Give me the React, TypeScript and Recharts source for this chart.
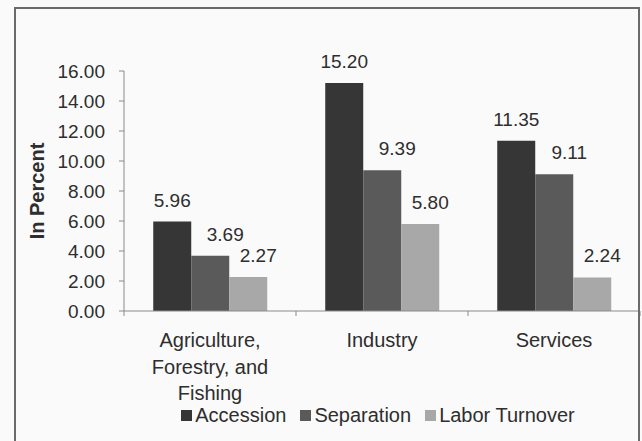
import { BarChart, Bar, XAxis, YAxis, Legend, LabelList, Text } from "recharts";

const sectors = ["Agriculture, Forestry, and Fishing", "Industry", "Services"];
const seriesNames = ["Accession", "Separation", "Labor Turnover"];
const accession = [5.96, 15.2, 11.35];
const separation = [3.69, 9.39, 9.11];
const laborTurnover = [2.27, 5.8, 2.24];
const yTicks = [0, 2, 4, 6, 8, 10, 12, 14, 16];

const data = sectors.map((name, i) => ({
  name,
  Accession: accession[i],
  Separation: separation[i],
  "Labor Turnover": laborTurnover[i],
}));

const FONT = "'Liberation Sans', Arial, sans-serif";
const INK = "#2e2e2e";
const AXIS = "#8a8a8a";
const TICK_SIZE = 5;
const TICK_GAP = 17;

// category label + the little tick marks that sit between the groups
const SectorTick = (props: any) => {
  const { x, y, payload, index } = props;
  const half = payload.offset || 0;
  const axisY = y - TICK_SIZE - TICK_GAP;
  const isLast = index === sectors.length - 1;
  return (
    <g>
      <line x1={x - half} x2={x - half} y1={axisY} y2={axisY + TICK_SIZE} stroke={AXIS} />
      {isLast && <line x1={x + half} x2={x + half} y1={axisY} y2={axisY + TICK_SIZE} stroke={AXIS} />}
      <Text
        x={x}
        y={y}
        width={112}
        textAnchor="middle"
        verticalAnchor="start"
        lineHeight={26.5}
        fontFamily={FONT}
        fontSize={20}
        fill={INK}
      >
        {payload.value}
      </Text>
    </g>
  );
};

const renderLegend = (props: any) => {
  const items = [...(props.payload || [])].sort(
    (a: any, b: any) => seriesNames.indexOf(a.value) - seriesNames.indexOf(b.value)
  );
  return (
    <div
      style={{
        display: "flex",
        justifyContent: "center",
        gap: 14,
        fontFamily: FONT,
        fontSize: 20,
        color: INK,
        lineHeight: "26px",
      }}
    >
      {items.map((p: any) => (
        <span key={p.value} style={{ display: "flex", alignItems: "center" }}>
          <span style={{ width: 11, height: 11, background: p.color, marginRight: 3, display: "inline-block" }} />
          {p.value}
        </span>
      ))}
    </div>
  );
};

const labelStyle = { fontFamily: FONT, fontSize: 19, fill: INK };
const fmt = (v: number) => v.toFixed(2);

export default function App() {
  return (
    <div style={{ position: "absolute", left: 0, top: 0, width: 642, height: 441, background: "#fafafa", overflow: "hidden" }}>
      <BarChart
        width={642}
        height={441}
        data={data}
        margin={{ top: 71, right: 2, bottom: 9, left: 0 }}
        barCategoryGap="17%"
        barGap={0}
      >
        <XAxis
          dataKey="name"
          stroke={AXIS}
          tickLine={false}
          tickSize={TICK_SIZE}
          tickMargin={TICK_GAP}
          height={95}
          interval={0}
          tick={<SectorTick />}
        />
        <YAxis
          width={124}
          domain={[0, 16]}
          ticks={yTicks}
          tickFormatter={fmt}
          tickSize={5}
          tickMargin={14}
          stroke={AXIS}
          tick={{ fontFamily: FONT, fontSize: 19, fill: INK }}
          label={{
            value: "In Percent",
            angle: -90,
            position: "insideLeft",
            offset: 37,
            style: { textAnchor: "middle", fontFamily: FONT, fontWeight: "bold", fontSize: 20, fill: INK },
          }}
        />
        <Legend
          verticalAlign="bottom"
          content={renderLegend}
          wrapperStyle={{ left: 120, width: 516, top: 402 }}
        />
        <Bar dataKey="Accession" fill="#363636" isAnimationActive={false}>
          <LabelList dataKey="Accession" position="top" offset={15} formatter={fmt} style={labelStyle} />
        </Bar>
        <Bar dataKey="Separation" fill="#5a5a5a" isAnimationActive={false}>
          <LabelList dataKey="Separation" position="top" offset={15} dx={15} formatter={fmt} style={labelStyle} />
        </Bar>
        <Bar dataKey="Labor Turnover" fill="#a8a8a8" isAnimationActive={false}>
          <LabelList dataKey="Labor Turnover" position="top" offset={15} dx={10} formatter={fmt} style={labelStyle} />
        </Bar>
      </BarChart>
      <div
        style={{
          position: "absolute",
          left: 14,
          top: 7,
          width: 622,
          height: 440,
          borderLeft: "2px solid #6a6a6a",
          borderTop: "2px solid #6a6a6a",
          borderRight: "2px solid #6a6a6a",
          pointerEvents: "none",
        }}
      />
    </div>
  );
}
